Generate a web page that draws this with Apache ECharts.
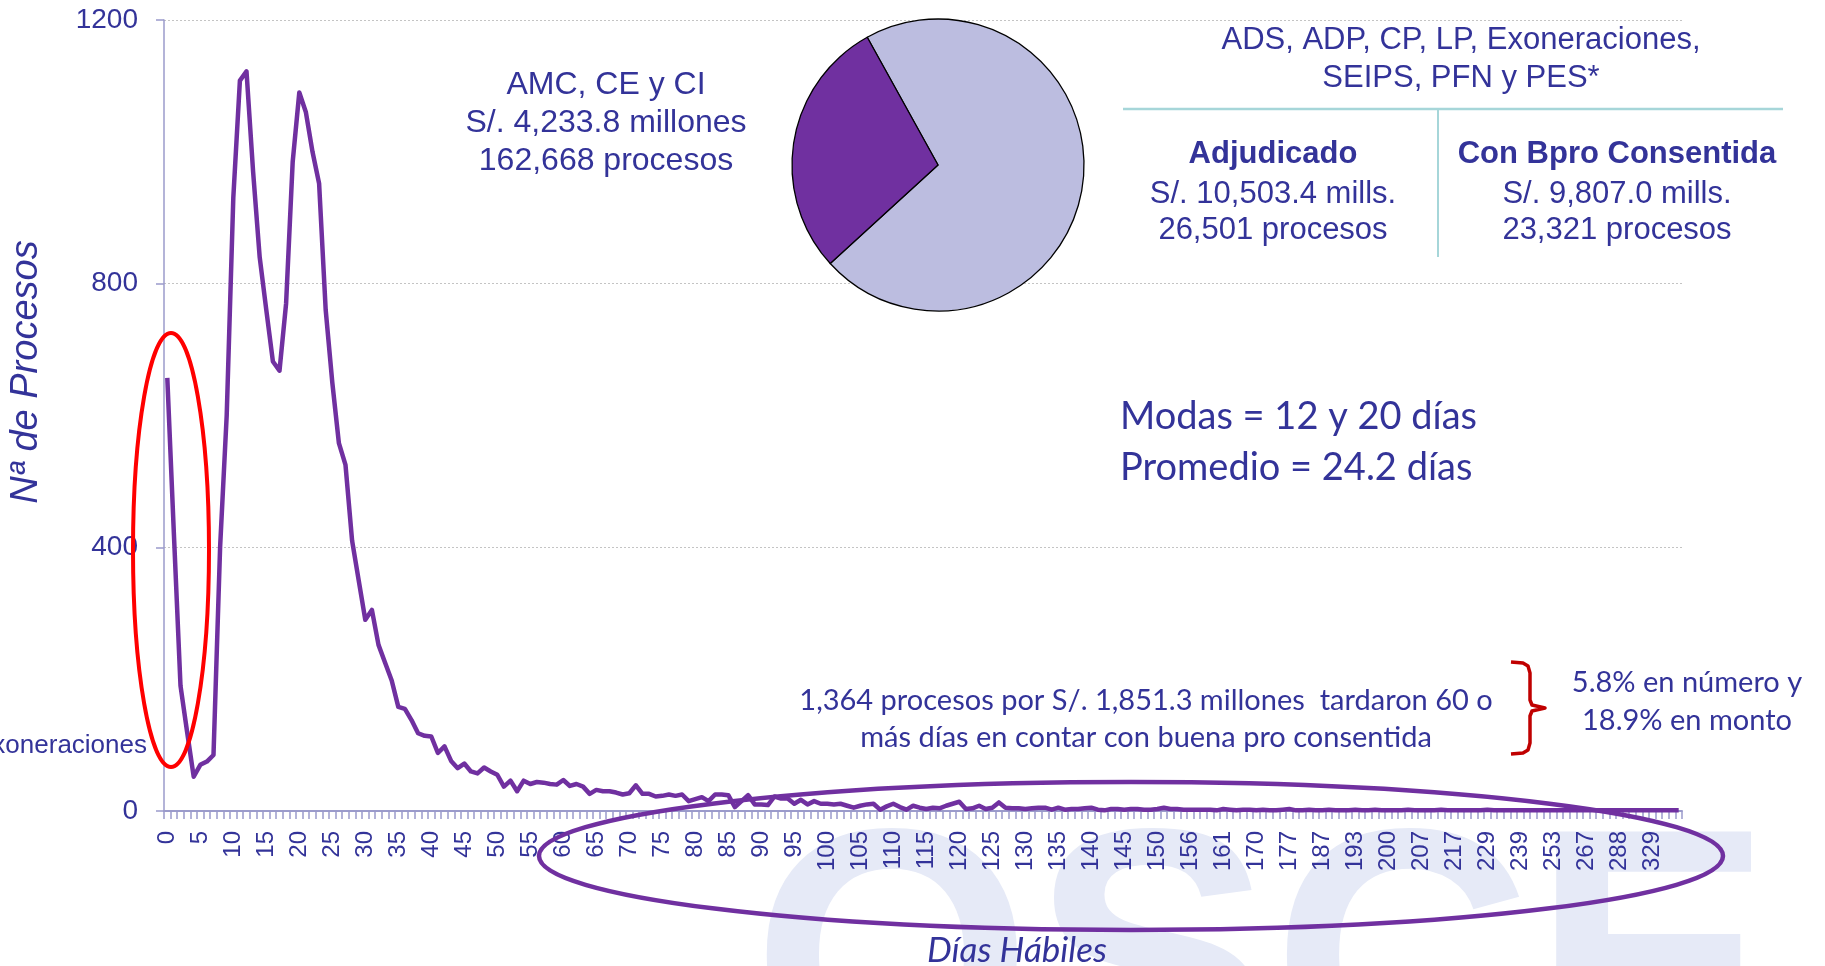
<!DOCTYPE html>
<html>
<head>
<meta charset="utf-8">
<script src="https://cdn.jsdelivr.net/npm/echarts@6/dist/echarts.min.js"></script>
<style>
html,body{margin:0;padding:0;background:#fff;}
#main{width:1825px;height:966px;}
</style>
</head>
<body>
<div id="main"></div>
<script>
// Días hábiles (categories on the x axis)
const days = [0,1,2,3,4,5,6,7,8,9,10,11,12,13,14,15,16,17,18,19,20,21,22,23,24,25,26,27,28,29,
30,31,32,33,34,35,36,37,38,39,40,41,42,43,44,45,46,47,48,49,50,51,52,53,54,55,56,57,58,59,
60,61,62,63,64,65,66,67,68,69,70,71,72,73,74,75,76,77,78,79,80,81,82,83,84,85,86,87,88,89,
90,91,92,93,94,95,96,97,98,99,100,101,102,103,104,105,106,107,108,109,110,111,112,113,114,
115,116,117,118,119,120,121,122,123,124,125,126,127,128,129,130,131,132,133,134,135,136,137,
138,139,140,141,142,143,144,145,146,147,148,149,150,
151,152,153,155,156,157,158,159,160,161,163,165,166,168,170,171,172,174,175,177,
179,180,182,185,187,188,189,190,192,193,194,196,197,199,200,201,203,204,205,207,
209,211,213,215,217,219,221,224,226,229,231,233,235,237,239,242,245,248,250,253,
256,259,262,264,267,270,274,279,283,288,294,301,310,318,329,342,361,385,427];

// Nº de procesos per día
const procesos = [657,420,190,120,52,70,75,85,400,600,
930,1108,1122,970,840,760,682,668,770,985,
1090,1060,1000,952,760,650,558,525,410,350,
290,305,252,225,198,158,155,138,118,114,
113,88,98,76,65,72,60,57,66,60,
55,37,46,30,46,41,44,43,41,40,
47,38,41,37,26,32,30,30,28,25,
27,39,26,26,22,23,25,23,25,15,
18,21,15,25,25,24,6,15,24,10,
10,9,22,19,19,11,17,10,15,11,
11,10,11,8,5,8,10,11,2,7,
11,6,2,8,5,3,5,4,8,11,
14,3,4,8,3,5,13,5,4,4,
3,4,5,5,2,5,2,3,3,4,
5,2,1,3,3,2,3,3,2,2,
3,5,3,3,2,2,2,2,
2,1,3,2,1,2,2,1,2,1,
1,2,3,1,1,2,1,1,2,1,
1,1,2,1,1,2,1,1,1,1,
2,1,1,1,1,2,1,1,1,1,
1,1,2,1,1,1,1,1,1,1,
1,1,1,1,1,1,1,1,1,1,
1,1,1,1,1,1,1,1,1,1,1,1];

// Pie: monto adjudicado (millones S/.)
const pieNames = ['ADS, ADP, CP, LP, Exoneraciones, SEIPS, PFN y PES*', 'AMC, CE y CI'];
const pieValues = [10503.4, 4233.8];

const yTicks = [0, 400, 800, 1200];

const ARIAL = 'Liberation Sans, Arial, sans-serif';
const CALIBRI = 'Lato, Carlito, sans-serif';
const TXT = '#333399';
const PURPLE = '#7030a0';
const AXIS = '#9b9bcb';

const chart = echarts.init(document.getElementById('main'), null, {renderer: 'canvas'});

function t(text, x, y, opts) {
  return {
    type: 'text', x: x, y: y, z: 50, silent: true,
    style: Object.assign({
      text: text, fill: TXT, font: '31px ' + ARIAL,
      align: 'center', verticalAlign: 'middle'
    }, opts || {})
  };
}

const option = {
  backgroundColor: '#ffffff',
  animation: false,
  grid: {left: 164, right: 143, top: 20, bottom: 155},
  xAxis: {
    type: 'category',
    data: days,
    boundaryGap: true,
    axisLine: {lineStyle: {color: AXIS, width: 2}},
    axisTick: {show: true, interval: 0, length: 8, lineStyle: {color: AXIS, width: 1.5}},
    axisLabel: {interval: 4, rotate: 90, margin: 20, color: TXT, fontSize: 24, fontFamily: ARIAL},
    splitLine: {show: false}
  },
  yAxis: {
    type: 'value',
    min: yTicks[0], max: yTicks[yTicks.length - 1], interval: 400,
    axisLine: {show: true, lineStyle: {color: AXIS, width: 1.5}},
    axisTick: {show: true, length: 8, lineStyle: {color: AXIS, width: 1.5}},
    axisLabel: {margin: 26, color: TXT, fontSize: 28, fontFamily: ARIAL, formatter: function (v) { return String(v); }},
    splitLine: {show: true, lineStyle: {color: '#c4c4c4', type: [2, 2], width: 1}}
  },
  series: [
    {
      type: 'line',
      name: 'Nº de Procesos',
      data: procesos,
      showSymbol: false,
      symbol: 'none',
      silent: true,
      z: 3,
      lineStyle: {color: PURPLE, width: 4.5, join: 'round'}
    },
    {
      type: 'pie',
      center: [938, 165],
      radius: 146,
      startAngle: 119,
      clockwise: true,
      silent: true,
      z: 4,
      label: {show: false},
      labelLine: {show: false},
      itemStyle: {borderColor: '#000000', borderWidth: 1.3},
      data: [
        {name: pieNames[0], value: pieValues[0], itemStyle: {color: '#bcbde0'}},
        {name: pieNames[1], value: pieValues[1], itemStyle: {color: PURPLE}}
      ]
    }
  ],
  graphic: {
    elements: [
      // watermark
      {type: 'text', x: 752, y: 800, z: -5, silent: true,
        style: {text: 'OSCE', fill: '#e6eaf7', font: 'bold 360px ' + ARIAL, align: 'left', verticalAlign: 'top'}},
      // axis names
      {type: 'text', x: 26, y: 372, rotation: Math.PI / 2, z: 50, silent: true,
        style: {text: 'Nª de Procesos', fill: TXT, font: 'italic 38px ' + ARIAL, align: 'center', verticalAlign: 'middle'}},
      t('Días Hábiles', 1017, 951, {font: 'italic 35px ' + CALIBRI}),
      // left annotation
      t('Exoneraciones', 147, 746, {font: '26px ' + ARIAL, align: 'right'}),
      // AMC block
      t('AMC, CE y CI\nS/. 4,233.8 millones\n162,668 procesos', 606, 123, {font: '32px ' + ARIAL, lineHeight: 38}),
      // ADS block
      t('ADS, ADP, CP, LP, Exoneraciones,\nSEIPS, PFN y PES*', 1461, 59, {font: '31px ' + ARIAL, lineHeight: 38}),
      {type: 'line', z: 50, silent: true, shape: {x1: 1123, y1: 109, x2: 1783, y2: 109}, style: {stroke: '#a6d6d9', lineWidth: 2.6}},
      {type: 'line', z: 50, silent: true, shape: {x1: 1438, y1: 109, x2: 1438, y2: 257}, style: {stroke: '#a6d6d9', lineWidth: 2}},
      t('Adjudicado', 1273, 154, {font: 'bold 31px ' + ARIAL}),
      t('S/. 10,503.4 mills.\n26,501 procesos', 1273, 212, {font: '31px ' + ARIAL, lineHeight: 36}),
      t('Con Bpro Consentida', 1617, 154, {font: 'bold 31px ' + ARIAL}),
      t('S/. 9,807.0 mills.\n23,321 procesos', 1617, 212, {font: '31px ' + ARIAL, lineHeight: 36}),
      // modas
      t('Modas = 12 y 20 días\nPromedio = 24.2 días', 1120, 442, {font: '38px ' + CALIBRI, align: 'left', lineHeight: 51}),
      // bottom note
      t('1,364 procesos por S/. 1,851.3 millones  tardaron 60 o\nmás días en contar con buena pro consentida', 1146, 719, {font: '29px ' + CALIBRI, lineHeight: 37}),
      t('5.8% en número y\n18.9% en monto', 1687, 702, {font: '29px ' + CALIBRI, lineHeight: 38}),
      // red bracket
      {type: 'polyline', z: 60, silent: true,
        shape: {points: [[1511,662],[1523,663],[1528,666],[1530,673],[1530,700],[1532,705],[1545,708],[1532,711],[1530,716],[1530,743],[1528,750],[1523,753],[1511,754]]},
        style: {stroke: '#c00000', lineWidth: 3.5, fill: null, lineJoin: 'round'}},
      // red ellipse
      {type: 'ellipse', z: 100, silent: true,
        shape: {cx: 171, cy: 550, rx: 38, ry: 217},
        style: {fill: null, stroke: '#ff0000', lineWidth: 4}},
      // purple ellipse
      {type: 'ellipse', z: 100, silent: true,
        shape: {cx: 1131, cy: 856, rx: 592, ry: 74},
        style: {fill: null, stroke: PURPLE, lineWidth: 4.5}}
    ]
  }
};
chart.setOption(option);
</script>
</body>
</html>
